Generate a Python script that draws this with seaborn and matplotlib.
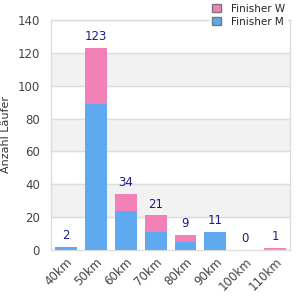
import numpy as np
import pandas as pd
import matplotlib
matplotlib.use('Agg')
import matplotlib.pyplot as plt
import seaborn as sns
from matplotlib.patches import Patch

distances = ['40km', '50km', '60km', '70km', '80km', '90km', '100km', '110km']
finisher_m = [2, 89, 24, 11, 5, 11, 0, 0]
finisher_w = [0, 34, 10, 10, 4, 0, 0, 1]
totals = [m + w for m, w in zip(finisher_m, finisher_w)]

pink = '#F281B8'
blue = '#5FA9F1'

sns.set_style('white')
plt.rcParams['font.family'] = ['DejaVu Sans']

df = pd.DataFrame({'dist': distances, 'M': finisher_m, 'W': finisher_w, 'total': totals})

fig = plt.figure(figsize=(3, 3), dpi=100)
ax = fig.add_axes([0.17, 0.167, 0.797, 0.766])

# grey bands
for lo in [20, 60, 100]:
    ax.axhspan(lo, lo + 20, color='#F2F2F2', zorder=0)
for y in range(20, 141, 20):
    ax.axhline(y, color='#DDDDDD', lw=1, zorder=0.5)

sns.barplot(data=df, x='dist', y='total', color=pink, width=0.73, saturation=1, ax=ax,
            zorder=2, linewidth=0, edgecolor='none')
sns.barplot(data=df, x='dist', y='M', color=blue, width=0.73, saturation=1, ax=ax,
            zorder=3, linewidth=0, edgecolor='none')

for i, t in enumerate(totals):
    ax.text(i, t + 3, str(t), ha='center', va='bottom', fontsize=8.5, color='#1C1C8C', zorder=4)

ax.set_ylim(0, 140)
ax.set_xlim(-0.5, 7.5)
ax.set_yticks(range(0, 141, 20))
ax.set_xlabel('')
ax.set_ylabel('Anzahl Läufer', fontsize=8, color='#333333')
ax.yaxis.set_label_coords(-0.168, 0.5)
ax.tick_params(axis='both', labelsize=8.5, colors='#444444', length=0)
ax.tick_params(axis='y', pad=8)
ax.tick_params(axis='x', pad=4)
plt.setp(ax.get_xticklabels(), rotation=45, ha='right', rotation_mode='anchor')
for s in ax.spines.values():
    s.set_color('#DDDDDD')
    s.set_linewidth(1)

handles = [Patch(facecolor=pink, edgecolor='#777777', label='Finisher W'),
           Patch(facecolor=blue, edgecolor='#777777', label='Finisher M')]
leg = fig.legend(handles=handles, loc='upper right', bbox_to_anchor=(0.975, 1.012), fontsize=7.5,
                 frameon=True, handlelength=0.8, handleheight=0.8, handletextpad=1.0,
                 labelspacing=0.3, borderpad=0.2)
leg.get_frame().set_edgecolor('white')
leg.get_frame().set_facecolor('white')
leg.get_frame().set_alpha(1)

fig.savefig('out.png', dpi=100)
